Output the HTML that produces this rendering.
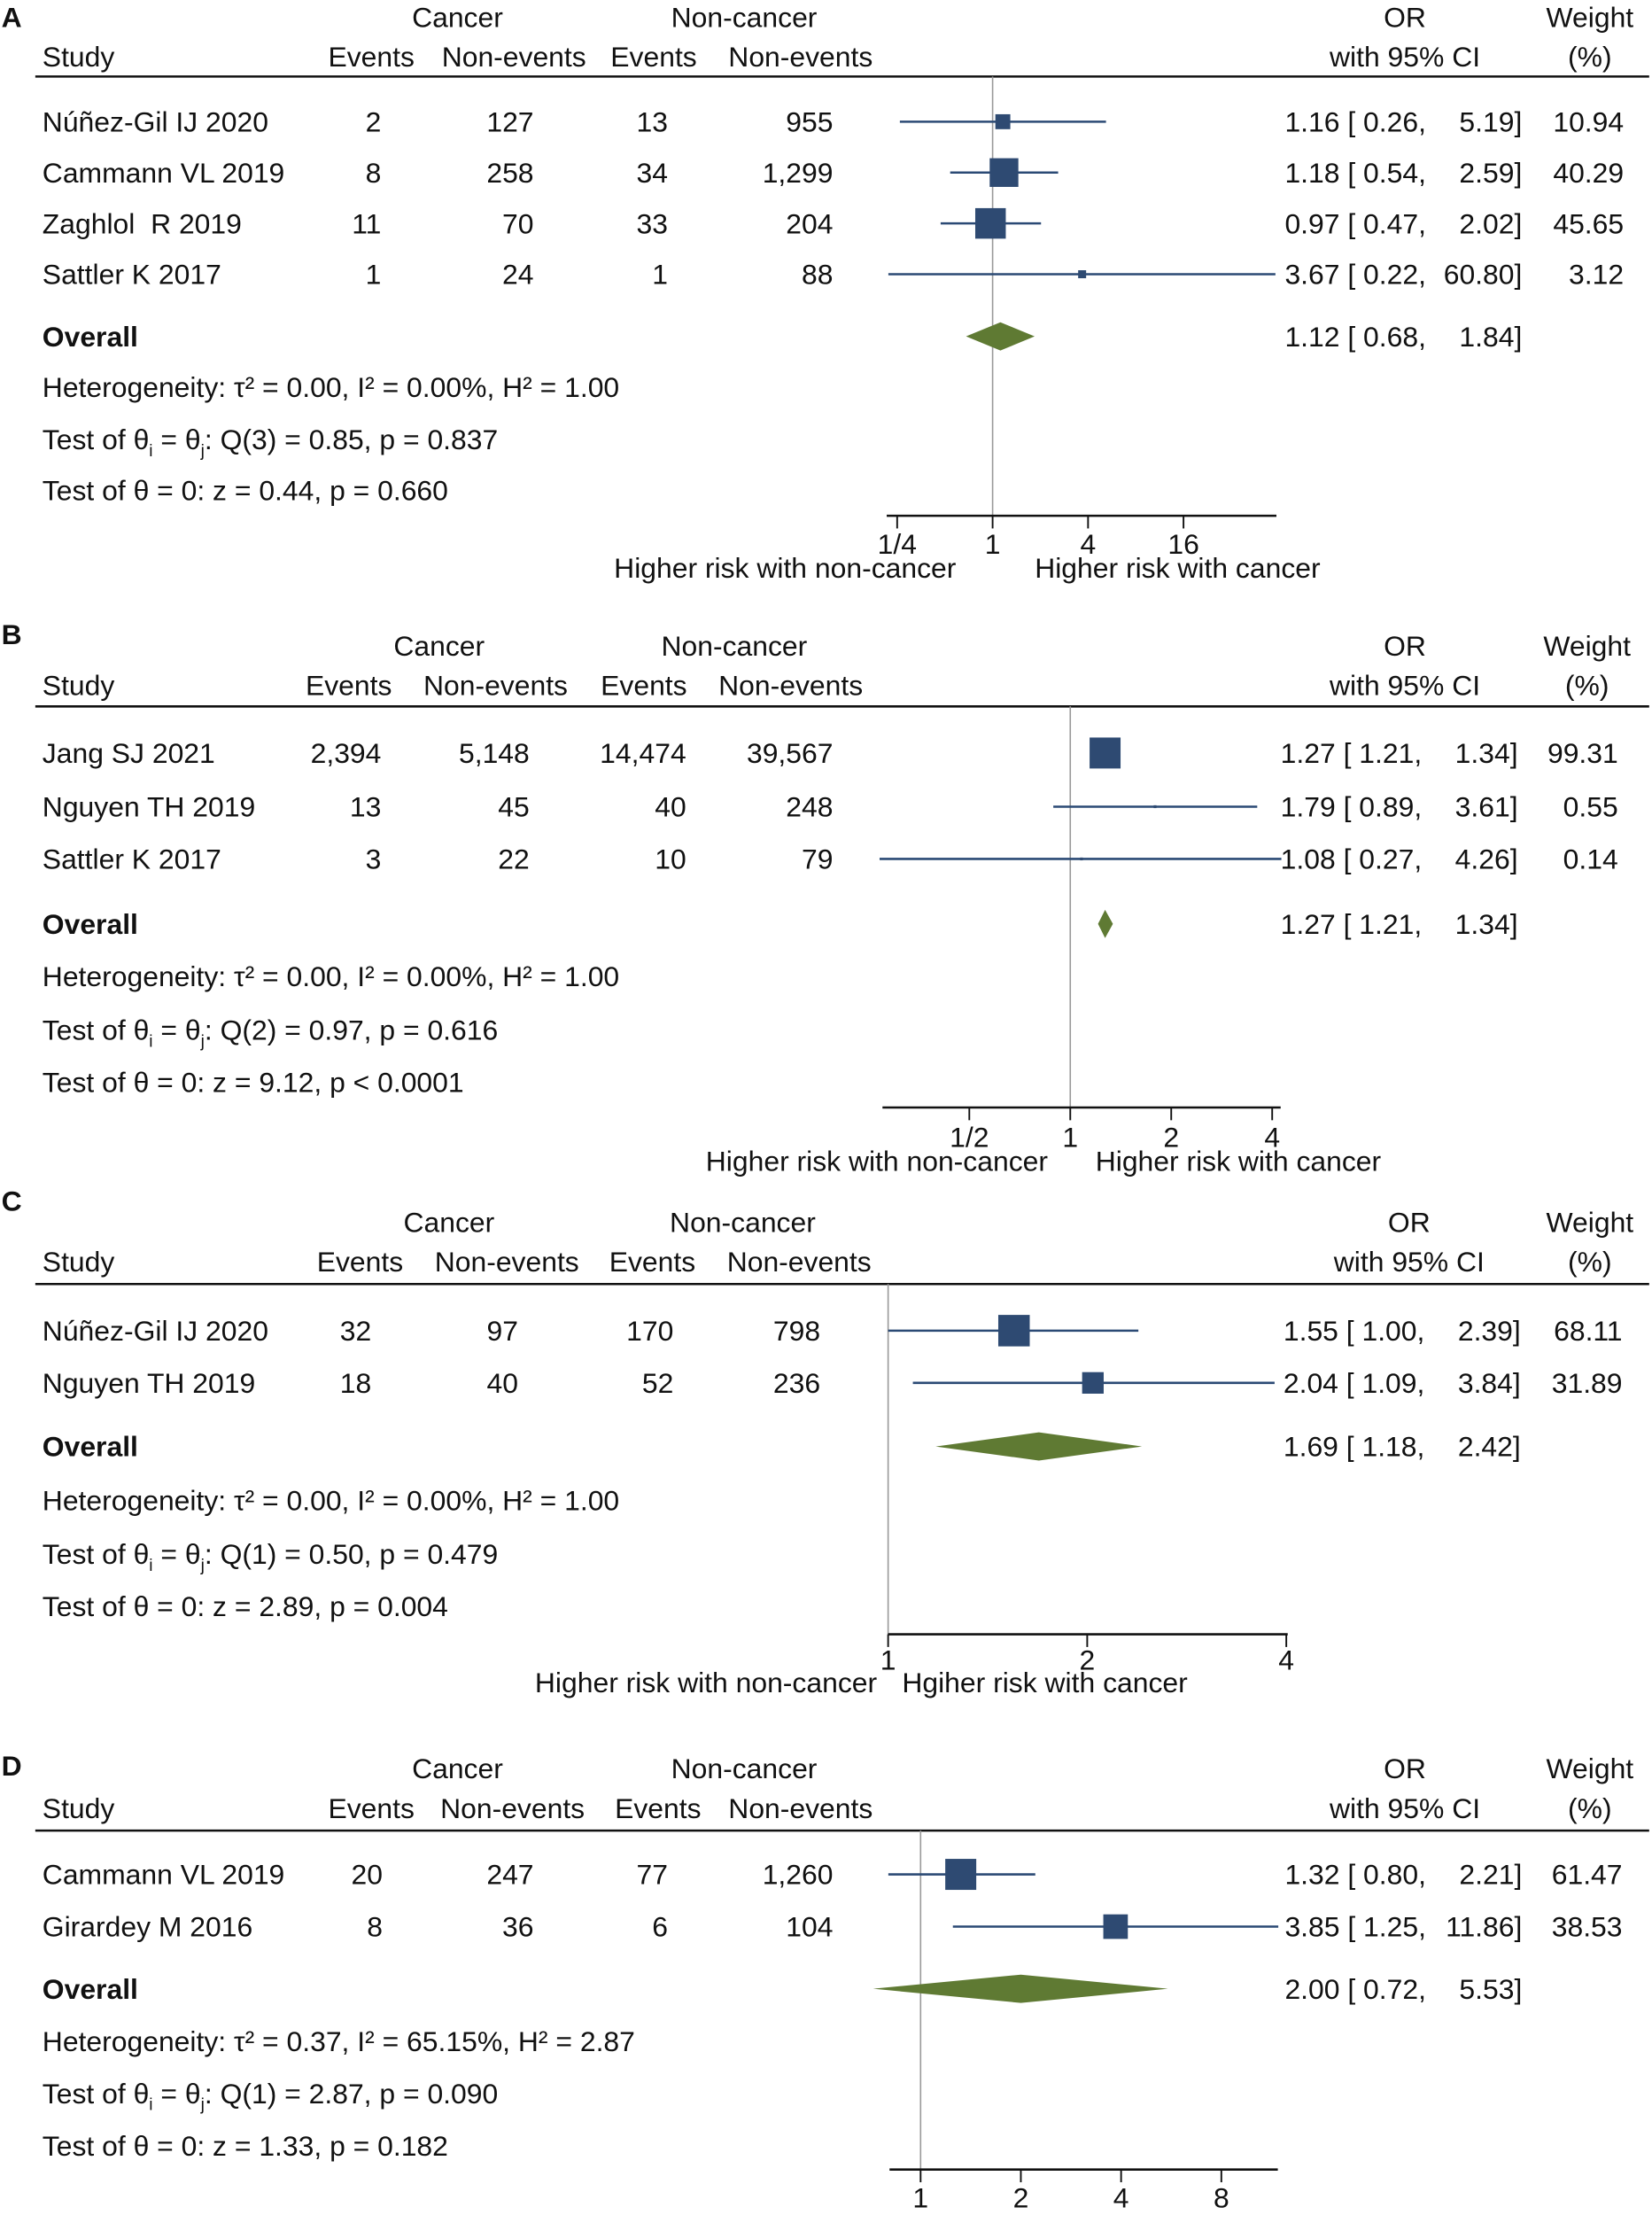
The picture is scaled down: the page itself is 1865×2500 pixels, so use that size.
<!DOCTYPE html>
<html><head><meta charset="utf-8">
<style>
html,body{margin:0;padding:0;background:#fff;}
svg{display:block;}
text{font-family:"Liberation Sans",Arial,sans-serif;font-size:20px;fill:#111;white-space:pre;}
</style></head>
<body>
<svg id="chart" width="1865" height="2500" viewBox="0 0 1170 1568" xmlns="http://www.w3.org/2000/svg"></svg>
<script>
// ---------- Panel A data ----------
const aStudies=["Núñez-Gil IJ 2020","Cammann VL 2019","Zaghlol\u00a0 R 2019","Sattler K 2017"];
const aCancerEvents=["2","8","11","1"];
const aCancerNon=["127","258","70","24"];
const aNonEvents=["13","34","33","1"];
const aNonNon=["955","1,299","204","88"];
const aOR=[1.16,1.18,0.97,3.67];
const aLo=[0.26,0.54,0.47,0.22];
const aHi=[5.19,2.59,2.02,60.80];
const aWeight=[10.94,40.29,45.65,3.12];
const aOverall=[1.12,0.68,1.84];
const aStats=["Heterogeneity: τ² = 0.00, I² = 0.00%, H² = 1.00","Q(3) = 0.85, p = 0.837","Test of θ = 0: z = 0.44, p = 0.660"];
const aTicks=[0.25,1,4,16];
const aTickLabels=["1/4","1","4","16"];
// ---------- Panel B data ----------
const bStudies=["Jang SJ 2021","Nguyen TH 2019","Sattler K 2017"];
const bCancerEvents=["2,394","13","3"];
const bCancerNon=["5,148","45","22"];
const bNonEvents=["14,474","40","10"];
const bNonNon=["39,567","248","79"];
const bOR=[1.27,1.79,1.08];
const bLo=[1.21,0.89,0.27];
const bHi=[1.34,3.61,4.26];
const bWeight=[99.31,0.55,0.14];
const bOverall=[1.27,1.21,1.34];
const bStats=["Heterogeneity: τ² = 0.00, I² = 0.00%, H² = 1.00","Q(2) = 0.97, p = 0.616","Test of θ = 0: z = 9.12, p < 0.0001"];
const bTicks=[0.5,1,2,4];
const bTickLabels=["1/2","1","2","4"];
// ---------- Panel C data ----------
const cStudies=["Núñez-Gil IJ 2020","Nguyen TH 2019"];
const cCancerEvents=["32","18"];
const cCancerNon=["97","40"];
const cNonEvents=["170","52"];
const cNonNon=["798","236"];
const cOR=[1.55,2.04];
const cLo=[1.00,1.09];
const cHi=[2.39,3.84];
const cWeight=[68.11,31.89];
const cOverall=[1.69,1.18,2.42];
const cStats=["Heterogeneity: τ² = 0.00, I² = 0.00%, H² = 1.00","Q(1) = 0.50, p = 0.479","Test of θ = 0: z = 2.89, p = 0.004"];
const cTicks=[1,2,4];
const cTickLabels=["1","2","4"];
// ---------- Panel D data ----------
const dStudies=["Cammann VL 2019","Girardey M 2016"];
const dCancerEvents=["20","8"];
const dCancerNon=["247","36"];
const dNonEvents=["77","6"];
const dNonNon=["1,260","104"];
const dOR=[1.32,3.85];
const dLo=[0.80,1.25];
const dHi=[2.21,11.86];
const dWeight=[61.47,38.53];
const dOverall=[2.00,0.72,5.53];
const dStats=["Heterogeneity: τ² = 0.37, I² = 65.15%, H² = 2.87","Q(1) = 2.87, p = 0.090","Test of θ = 0: z = 1.33, p = 0.182"];
const dTicks=[1,2,4,8];
const dTickLabels=["1","2","4","8"];

const NS="http://www.w3.org/2000/svg";
const svg=document.getElementById('chart');
function mk(tag,attrs,parent){const e=document.createElementNS(NS,tag);for(const k in attrs)e.setAttribute(k,attrs[k]);(parent||svg).appendChild(e);return e;}
function txt(x,y,s,anchor,parent,extra){const e=mk('text',Object.assign({x:x,y:y+7,'text-anchor':anchor||'start'},extra||{}),parent);e.textContent=s;return e;}
function f2(v){return v.toFixed(2);}

function drawPanel(L,D){
  const g=mk('g',{});
  
  
  const sx=v=>L.nullX+Math.log2(v)*L.unit;
  const lab=txt(1,L.labelY,L.id,'start',g,{'font-weight':'bold','font-size':'22'});
  
  let h;
  h=txt(L.cancerX,L.h1,'Cancer','middle',g);
  h=txt(L.noncancerX,L.h1,'Non-cancer','middle',g);
  h=txt(L.orX,L.h1,'OR','middle',g);
  h=txt(L.wX,L.h1,'Weight','middle',g);
  h=txt(30,L.h2,'Study','start',g);
  const hn=['Events','Non-events','Events','Non-events'];
  for(let i=0;i<4;i++){h=txt(L.hc[i],L.h2,hn[i],'middle',g);}
  h=txt(L.orX,L.h2,'with 95% CI','middle',g);
  h=txt(L.wX,L.h2,'(%)','middle',g);
  const hl=mk('line',{x1:25,x2:1168,y1:L.line,y2:L.line,stroke:'#111','stroke-width':1.6},g);
  
  const nl=mk('line',{x1:L.nullX,x2:L.nullX,y1:L.line,y2:L.axisY,stroke:'#999','stroke-width':1},g);
  
  D.studies.forEach((s,i)=>{
    const y=L.rows[i];
    const r=mk('g',{},g);
    
    let t=txt(30,y,s,'start',r);
    const cols=[D.ce[i],D.cn[i],D.ne[i],D.nn[i]];
    cols.forEach((c,j)=>{t=txt(L.cr[j],y,c,'end',r);});
    const ci=mk('line',{x1:sx(D.lo[i]),x2:sx(D.hi[i]),y1:y,y2:y,stroke:'#2b4a75','stroke-width':1.6},r);
    
    const sz=Math.max(2,L.k*Math.sqrt(D.w[i]));
    const sq=mk('rect',{x:sx(D.or[i])-sz/2,y:y-sz/2,width:sz,height:sz,fill:'#2e4a72'},r);
    
    t=txt(L.orR-68,y,f2(D.or[i])+' [ '+f2(D.lo[i])+',','end',r);
    t=txt(L.orR,y,f2(D.hi[i])+']','end',r);
    t=txt(L.wR,y,f2(D.w[i]),'end',r);
  });
  const oy=L.overall;
  let t=txt(30,oy,'Overall','start',g,{'font-weight':'bold'});
  const [oc,ol,oh]=D.ov;
  const dm=mk('polygon',{points:`${sx(ol)},${oy} ${sx(oc)},${oy-10} ${sx(oh)},${oy} ${sx(oc)},${oy+10}`,fill:'#5f7a33'},g);
  
  t=txt(L.orR-68,oy,f2(oc)+' [ '+f2(ol)+',','end',g);
  t=txt(L.orR,oy,f2(oh)+']','end',g);
  t=txt(30,L.stats[0],D.stats[0],'start',g);
  const q=mk('text',{x:30,y:L.stats[1]+7},g);
  
  q.innerHTML='Test of θ<tspan font-size="12" dy="5">i</tspan><tspan dy="-5"> = θ</tspan><tspan font-size="12" dy="5">j</tspan><tspan dy="-5">: '+D.stats[1]+'</tspan>';
  t=txt(30,L.stats[2],D.stats[2],'start',g);
  const ax=mk('line',{x1:L.axX[0],x2:L.axX[1],y1:L.axisY,y2:L.axisY,stroke:'#111','stroke-width':1.6},g);
  
  D.ticks.forEach((v,i)=>{
    const tk=mk('line',{x1:sx(v),x2:sx(v),y1:L.axisY,y2:L.axisY+9,stroke:'#111','stroke-width':1.2},g);
    
    const tl=txt(sx(v),L.tickY,D.tickLabels[i],'middle',g);
    
  });
  if(L.titles){
    t=txt(L.titles[0],L.titleY,'Higher risk with non-cancer','middle',g,{'font-size':'18.5'});
    t=txt(L.titles[1],L.titleY,L.rightTitle,'middle',g,{'font-size':'18.5'});
  }
}

drawPanel({id:'A',labelY:12,h1:12,h2:40,line:54,rows:[86,122,158,194],overall:238,stats:[274,311,347],
  nullX:703,unit:33.8,axisY:365,axX:[628,904],tickY:385,titleY:402,titles:[556,834],rightTitle:'Higher risk with cancer',k:3.2,
  cr:[270,378,473,590],hc:[263,364,463,567],cancerX:324,noncancerX:527,orX:995,wX:1126,orR:1078,wR:1150},
  {studies:aStudies,ce:aCancerEvents,cn:aCancerNon,ne:aNonEvents,nn:aNonNon,or:aOR,lo:aLo,hi:aHi,w:aWeight,ov:aOverall,stats:aStats,ticks:aTicks,tickLabels:aTickLabels});
drawPanel({id:'B',labelY:449,h1:457,h2:485,line:500,rows:[533,571,608],overall:654,stats:[691,729,766],
  nullX:758,unit:71.5,axisY:784,axX:[625,907],tickY:805,titleY:822,titles:[621,877],rightTitle:'Higher risk with cancer',k:2.2,
  cr:[270,375,486,590],hc:[247,351,456,560],cancerX:311,noncancerX:520,orX:995,wX:1124,orR:1075,wR:1146},
  {studies:bStudies,ce:bCancerEvents,cn:bCancerNon,ne:bNonEvents,nn:bNonNon,or:bOR,lo:bLo,hi:bHi,w:bWeight,ov:bOverall,stats:bStats,ticks:bTicks,tickLabels:bTickLabels});
drawPanel({id:'C',labelY:850,h1:865,h2:893,line:909,rows:[942,979],overall:1024,stats:[1062,1100,1137],
  nullX:629,unit:141,axisY:1157,axX:[629,912],tickY:1175,titleY:1191,titles:[500,740],rightTitle:'Hgiher risk with cancer',k:2.7,
  cr:[263,367,477,581],hc:[255,359,462,566],cancerX:318,noncancerX:526,orX:998,wX:1126,orR:1077,wR:1149},
  {studies:cStudies,ce:cCancerEvents,cn:cCancerNon,ne:cNonEvents,nn:cNonNon,or:cOR,lo:cLo,hi:cHi,w:cWeight,ov:cOverall,stats:cStats,ticks:cTicks,tickLabels:cTickLabels});
drawPanel({id:'D',labelY:1250,h1:1252,h2:1280,line:1296,rows:[1327,1364],overall:1408,stats:[1445,1482,1519],
  nullX:652,unit:71,axisY:1536,axX:[630,905],tickY:1556,titleY:0,titles:null,rightTitle:'',k:2.8,
  cr:[271,378,473,590],hc:[263,363,466,567],cancerX:324,noncancerX:527,orX:995,wX:1126,orR:1078,wR:1149},
  {studies:dStudies,ce:dCancerEvents,cn:dCancerNon,ne:dNonEvents,nn:dNonNon,or:dOR,lo:dLo,hi:dHi,w:dWeight,ov:dOverall,stats:dStats,ticks:dTicks,tickLabels:dTickLabels});
</script>
</body></html>
